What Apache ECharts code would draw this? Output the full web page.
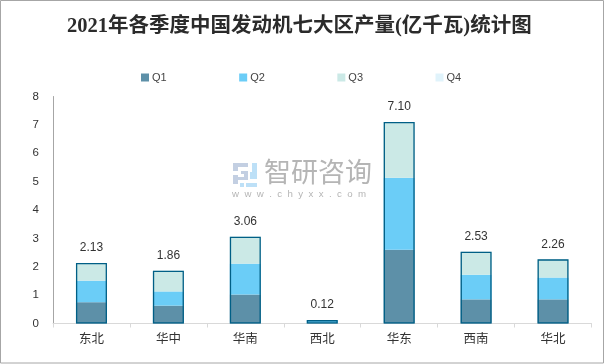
<!DOCTYPE html>
<html><head><meta charset="utf-8">
<style>html,body{margin:0;padding:0;background:#fff}#c{width:605px;height:364px}</style>
<script src="https://cdn.jsdelivr.net/npm/echarts@6/dist/echarts.min.js"></script>
</head><body><div id="c"></div>
<script>
const titleText = '2021年各季度中国发动机七大区产量(亿千瓦)统计图';
const categories = ['东北','华中','华南','西北','华东','西南','华北'];
const q1 = [0.75,0.63,1.02,0.02,2.60,0.85,0.85];
const q2 = [0.76,0.50,1.09,0.09,2.54,0.87,0.77];
const q3 = [0.62,0.73,0.95,0.01,1.96,0.81,0.64];
const q4 = [0,0,0,0,0,0,0];
const totals = [2.13,1.86,3.06,0.12,7.10,2.53,2.26];
const colors = ['#5d90a8','#6bcdf7','#cbe9e6','#e0f3fb'];
const names = ['Q1','Q2','Q3','Q4'];
const quarters = [q1,q2,q3,q4];
const font = '"Liberation Sans","Noto Sans CJK SC",sans-serif';
const logoA = '#c3cfe2', logoB = '#bde0f7';
const logoRect = (x,y,width,height,fill)=>({type:'rect',silent:true,z:0,shape:{x,y,width,height},style:{fill}});
const chart = echarts.init(document.getElementById('c'),null,{renderer:'canvas'});
chart.setOption({
  animation:false,
  backgroundColor:'#fff',
  title:{text:titleText,left:62,top:11,textStyle:{fontFamily:'"Liberation Serif","Noto Sans CJK SC",serif',fontSize:20.5,fontWeight:'bold',color:'#2b2b2b'}},
  legend:{data:names,top:67,left:136,itemWidth:8,itemHeight:8,itemGap:72.5,icon:'rect',textStyle:{fontFamily:font,fontSize:11,color:'#444',padding:[0,0,0,-2]}},
  grid:{left:53,right:13.5,top:96.5,bottom:40.5,containLabel:false},
  xAxis:{type:'category',data:categories,axisLine:{lineStyle:{color:'#d9d9d9',width:1}},axisTick:{show:true,length:4,lineStyle:{color:'#d9d9d9'}},axisLabel:{margin:10,fontFamily:font,fontSize:12.5,color:'#333'}},
  yAxis:{type:'value',min:0,max:8,interval:1,splitLine:{show:false},axisLine:{show:true,lineStyle:{color:'#a6a6a6'}},axisTick:{show:false},axisLabel:{margin:14,fontFamily:font,fontSize:11.5,color:'#333'}},
  graphic:[
    {type:'rect',silent:true,z:100,shape:{x:0.5,y:0.5,width:603,height:362.5},style:{fill:'none',stroke:'#a6a6a6',lineWidth:1}},
    {type:'text',silent:true,z:0,left:264,top:158,style:{text:'智研咨询',fontFamily:'"Noto Sans CJK SC"',fontSize:27,fill:'#b5b5b5'}},
    {type:'text',silent:true,z:0,left:232,top:189,style:{text:'w  w  w  .  c  h  y  x  x  .  c  o  m',fontFamily:font,fontSize:9.7,fill:'#b5b5b5'}},
    logoRect(233,163,15,4,logoA), logoRect(233,167,5,4,logoA), logoRect(241,171,7,3,logoA),
    logoRect(233,175,5,9,logoA), logoRect(244,174,4,6,logoA), logoRect(238,177,6,3,logoA),
    logoRect(252,163,5,13,logoB), logoRect(246,183,11,4,logoB), logoRect(250,176,7,3,logoB),
    logoRect(240,183,4,4,logoB), logoRect(250,172,2,4,logoB)
  ],
  series:[
    ...quarters.map((d,i)=>({name:names[i],type:'bar',stack:'q',data:d,barWidth:31,itemStyle:{color:colors[i]},z:2})),
    {name:'合计',type:'bar',data:totals,barWidth:31,barGap:'-100%',z:3,
     itemStyle:{color:'rgba(0,0,0,0)',borderColor:'#005f86',borderWidth:1.3},
     label:{show:true,position:'top',distance:9,formatter:p=>p.value.toFixed(2),fontFamily:font,fontSize:12,color:'#333'}}
  ]
});
</script></body></html>
